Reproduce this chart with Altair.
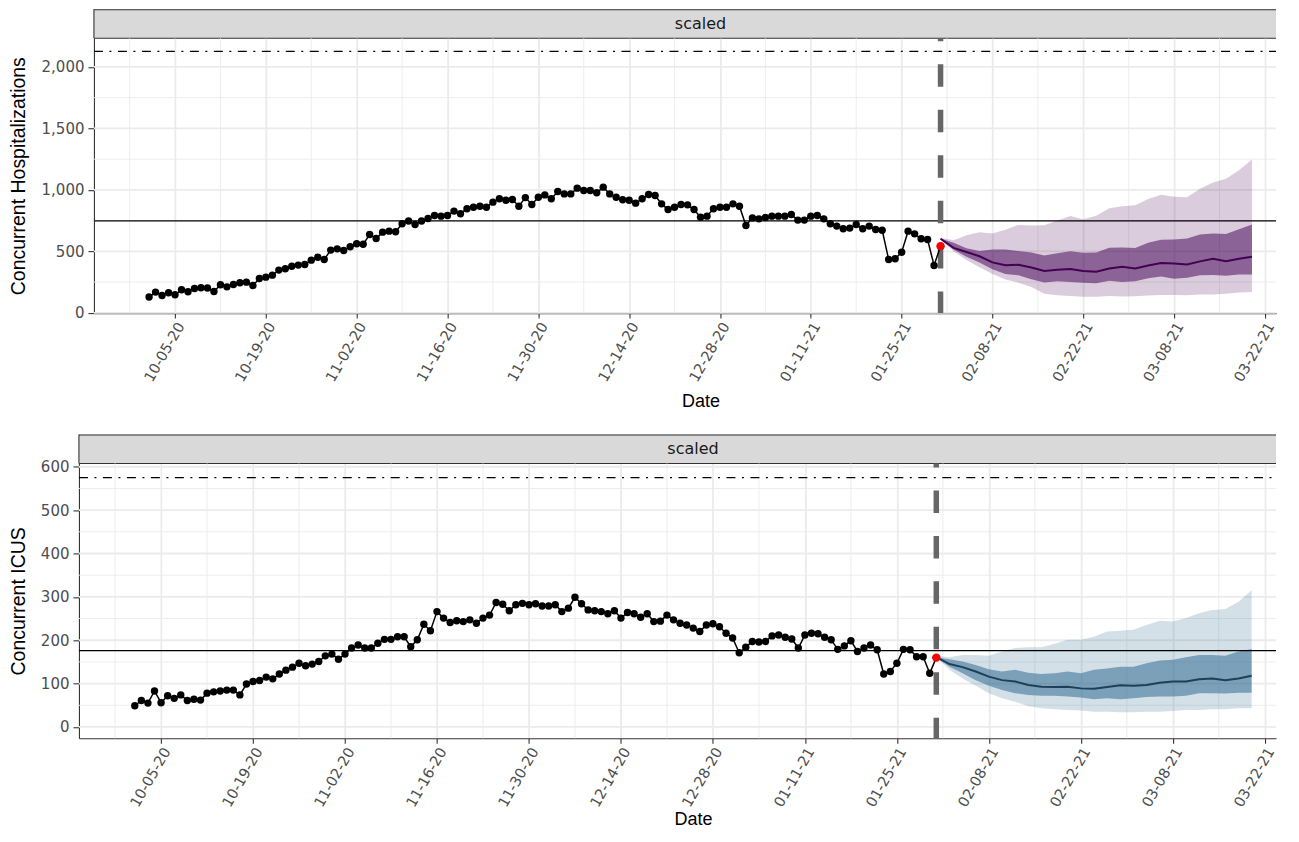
import altair as alt
import pandas as pd

# ---------------- data ----------------
OBS_START = "2020-10-01"
FC_START = "2021-01-31"

hosp_obs = [128, 168, 141, 163, 146, 187, 171, 198, 203, 201, 173, 228, 211, 230, 244, 249,
            222, 279, 290, 306, 347, 358, 379, 388, 393, 428, 452, 434, 510, 520, 507, 537,
            561, 558, 637, 604, 656, 664, 659, 724, 746, 718, 746, 767, 791, 786, 791, 827,
            805, 846, 859, 867, 859, 900, 927, 916,
            921, 867, 937, 881, 940, 959, 927, 986, 967, 967, 1014, 995, 995, 976, 1022, 967,
            940, 919, 916, 892, 927, 962, 954, 886, 840, 859, 881, 878, 840, 778, 786, 846,
            859, 859, 886, 867, 710, 772, 764, 775, 786, 786, 786, 799, 754, 754, 786, 791,
            764, 724, 705, 683, 689, 718, 683, 705, 678, 672, 434, 439, 493, 664, 642, 602,
            596, 385, 542]

icu_obs = [49, 61, 55, 83, 56, 72, 66, 74, 61, 64, 62, 78, 81, 83, 85, 85, 74, 99, 105, 107,
           115, 111, 122, 131, 138, 147, 141, 145, 151, 164, 168, 156, 168, 182, 189, 182, 182,
           193, 202, 202, 208, 208, 185, 201, 237, 222, 266, 251, 241, 245, 243, 247, 239, 251,
           258, 287,
           283, 268, 282, 285, 282, 284, 279, 279, 282, 266, 274, 299, 284, 270, 268, 266, 261,
           268, 251, 264, 261, 253, 261, 243, 244, 258, 247, 239, 235, 228, 220, 235, 238, 231,
           216, 205, 171, 184, 197, 196, 197, 210, 212, 207, 203, 182, 212, 216, 215, 207, 201,
           179, 187, 199, 174, 182, 189, 178, 122, 128, 147, 179, 178, 162, 162, 124, 160]

fc_days = [0, 2, 4, 6, 8, 10, 12, 14, 16, 18, 20, 22, 24, 26, 28, 30, 32, 34, 36, 38, 40, 42, 44, 46, 48]

hosp_med = [602, 528, 495, 460, 410, 387, 390, 368, 340, 350, 357, 339, 333, 360, 375, 360, 385,
            405, 401, 392, 418, 440, 420, 440, 455]
hosp_lo50 = [598, 515, 455, 410, 355, 315, 305, 272, 246, 257, 250, 244, 240, 260, 250, 256, 280,
             295, 276, 285, 305, 308, 302, 312, 312]
hosp_hi50 = [605, 569, 525, 503, 515, 515, 503, 490, 465, 485, 500, 488, 490, 530, 532, 526, 570,
             595, 596, 605, 637, 645, 640, 680, 718]
hosp_lo95 = [595, 501, 430, 370, 315, 270, 245, 210, 155, 142, 136, 130, 130, 136, 132, 135, 140,
             144, 144, 142, 149, 149, 155, 165, 168]
hosp_hi95 = [610, 591, 630, 655, 645, 675, 715, 710, 712, 750, 788, 760, 790, 850, 866, 875, 925,
             960, 943, 940, 1010, 1060, 1090, 1160, 1246]

icu_med = [161, 145, 138, 128, 116, 108, 105, 97, 93, 92, 93, 89, 88, 92, 96, 95, 97, 102, 105,
           105, 110, 112, 108, 112, 118]
icu_lo50 = [160, 139, 124, 108, 95, 85, 78, 74, 72, 72, 70, 68, 64, 66, 64, 66, 69, 70, 70, 72,
            78, 78, 77, 79, 79]
icu_hi50 = [161, 156, 151, 143, 133, 128, 132, 125, 122, 124, 128, 124, 132, 135, 139, 139, 147,
            153, 155, 161, 166, 166, 164, 174, 180]
icu_lo95 = [160, 132, 112, 95, 78, 66, 58, 48, 43, 41, 39, 38, 35, 35, 34, 34, 35, 35, 37, 39,
            39, 41, 41, 43, 43]
icu_hi95 = [164, 161, 166, 166, 164, 174, 182, 184, 184, 192, 201, 201, 208, 220, 222, 224, 235,
            245, 243, 251, 262, 270, 272, 289, 315]

hosp_ref, hosp_cap = 748, 2127
icu_ref, icu_cap = 176, 575

major_dates = ["2020-10-05", "2020-10-19", "2020-11-02", "2020-11-16", "2020-11-30",
               "2020-12-14", "2020-12-28", "2021-01-11", "2021-01-25", "2021-02-08",
               "2021-02-22", "2021-03-08", "2021-03-22"]
minor_dates = ["2020-09-28", "2020-10-12", "2020-10-26", "2020-11-09", "2020-11-23",
               "2020-12-07", "2020-12-21", "2021-01-04", "2021-01-18", "2021-02-01",
               "2021-02-15", "2021-03-01", "2021-03-15"]
hosp_major_y = [0, 500, 1000, 1500, 2000]
hosp_minor_y = [250, 750, 1250, 1750]
icu_major_y = [0, 100, 200, 300, 400, 500, 600]
icu_minor_y = [50, 150, 250, 350, 450, 550]

# ---------------- helpers ----------------
def iso(ts):
    return ts.strftime("%Y-%m-%dT%H:%M:%S")

def dt(s, hours=0):
    t = pd.Timestamp(s)
    return alt.DateTime(year=t.year, month=t.month, date=t.day, hours=hours)

obs_dates = [iso(t) for t in pd.date_range(OBS_START, periods=len(hosp_obs), freq="D")]
fc_dates = [iso(pd.Timestamp(FC_START) + pd.Timedelta(days=d)) for d in fc_days]

X_DOMAIN = [dt("2020-09-22", 12), dt("2021-03-23", 17)]

LABEL_FONT = "DejaVu Sans"
GRID = "#EBEBEB"
DARK = "#333333"
W = 1183          # visible plot width
FULL_W = 1214     # nominal width of the panel (cut by the window)
STRIP_H = 29
PLOT_H = 275


def make_panel(obs, med, lo50, hi50, lo95, hi95, fill, line_col, ydom, ymajor, yminor,
               ref, cap, ytitle, x0, extent, dash_offset, xtitle_pad):
    xscale = alt.Scale(domain=X_DOMAIN, nice=False, range=[x0, W])
    xaxis = alt.Axis(values=[dt(d) for d in major_dates], format="%m-%d-%y", labelAngle=300,
                     labelAlign="right", labelBaseline="top", labelPadding=2, tickSize=5,
                     labelOverlap=False, labelFlush=False, labelBound=False,
                     labelFont=LABEL_FONT, labelFontSize=14.5, labelColor="#4D4D4D",
                     title="Date", titleFont="Liberation Sans", titleFontSize=18,
                     titleFontWeight="normal", titleColor="#000000", titlePadding=xtitle_pad,
                     titleX=(x0 + FULL_W) / 2, grid=True)
    yscale = alt.Scale(domain=ydom, nice=False, zero=False)
    yaxis = alt.Axis(values=ymajor, format=",d", labelFont=LABEL_FONT, labelFontSize=15,
                     labelColor="#4D4D4D", labelPadding=4, labelFlush=False, tickSize=6,
                     labelOverlap=False, minExtent=extent, maxExtent=extent, offset=-x0,
                     title=ytitle, titleFont="Liberation Sans", titleFontSize=19.5,
                     titleFontWeight="normal", titleColor="#000000", titlePadding=12.5,
                     grid=False)

    def X(field):
        return alt.X(field, type="temporal", scale=xscale, axis=xaxis)

    def Y(field):
        return alt.Y(field, type="quantitative", scale=yscale, axis=yaxis)

    span = dict(x=alt.value(x0), x2=alt.value(W))

    obs_df = pd.DataFrame({"date": obs_dates, "value": obs})
    last_df = obs_df.tail(1)
    fc_df = pd.DataFrame({"date": fc_dates, "med": med, "lo50": lo50, "hi50": hi50,
                          "lo95": lo95, "hi95": hi95})

    minor_x = alt.Chart(pd.DataFrame({"date": [iso(pd.Timestamp(d)) for d in minor_dates]})).mark_rule(
        color=GRID, strokeWidth=0.9).encode(x=X("date"))
    minor_y = alt.Chart(pd.DataFrame({"value": yminor})).mark_rule(
        color=GRID, strokeWidth=0.9).encode(y=Y("value"), **span)
    major_y = alt.Chart(pd.DataFrame({"value": ymajor})).mark_rule(
        color=GRID, strokeWidth=1.8).encode(y=Y("value"), **span)

    outer = alt.Chart(fc_df).mark_area(color=fill, opacity=0.2).encode(
        x=X("date"), y=Y("lo95"), y2="hi95")
    inner = alt.Chart(fc_df).mark_area(color=fill, opacity=0.52).encode(
        x=X("date"), y=Y("lo50"), y2="hi50")
    median = alt.Chart(fc_df).mark_line(color=line_col, strokeWidth=2).encode(
        x=X("date"), y=Y("med"))

    ref_line = alt.Chart(pd.DataFrame({"value": [ref]})).mark_rule(
        color="black", strokeWidth=1.3).encode(y=Y("value"), **span)
    cap_line = alt.Chart(pd.DataFrame({"value": [cap]})).mark_rule(
        color="black", strokeWidth=1.3, strokeDash=[9, 6.5, 2, 6.5]).encode(y=Y("value"), **span)

    vline = alt.Chart(last_df).mark_rule(
        color="#666666", strokeWidth=5.5, strokeDash=[22.5, 23], strokeDashOffset=dash_offset
    ).encode(x=X("date"))

    obs_line = alt.Chart(obs_df).mark_line(color="black", strokeWidth=1.5).encode(
        x=X("date"), y=Y("value"))
    obs_pts = alt.Chart(obs_df).mark_circle(color="black", size=55, opacity=1).encode(
        x=X("date"), y=Y("value"))
    last_pt = alt.Chart(last_df).mark_circle(color="#FF0000", size=70, opacity=1).encode(
        x=X("date"), y=Y("value"))

    panel = alt.layer(minor_x, minor_y, major_y, outer, inner, median, ref_line, cap_line,
                      vline, obs_line, obs_pts, last_pt).properties(width=W, height=PLOT_H)

    # facet-style strip above the panel
    lab = pd.DataFrame({"label": ["scaled"]})
    strip_fill = alt.Chart(lab).mark_rect(fill="#D9D9D9", strokeWidth=0).encode(
        x=alt.value(x0), x2=alt.value(W), y=alt.value(0), y2=alt.value(STRIP_H))
    strip_top = alt.Chart(lab).mark_rule(color=DARK, strokeWidth=1.1).encode(
        x=alt.value(x0), x2=alt.value(W), y=alt.value(0.5))
    strip_bot = alt.Chart(lab).mark_rule(color=DARK, strokeWidth=1.1).encode(
        x=alt.value(x0), x2=alt.value(W), y=alt.value(STRIP_H))
    strip_left = alt.Chart(lab).mark_rule(color=DARK, strokeWidth=1.1).encode(
        x=alt.value(x0), y=alt.value(0), y2=alt.value(STRIP_H))
    strip_text = alt.Chart(lab).mark_text(
        font=LABEL_FONT, fontSize=16, color="#1A1A1A", baseline="middle", align="center"
    ).encode(text="label:N", x=alt.value((x0 + FULL_W) / 2), y=alt.value(STRIP_H / 2 + 0.5))
    strip = alt.layer(strip_fill, strip_top, strip_bot, strip_left, strip_text).properties(
        width=W, height=STRIP_H)

    return alt.vconcat(strip, panel, spacing=0, bounds="flush")


top = make_panel(hosp_obs, hosp_med, hosp_lo50, hosp_hi50, hosp_lo95, hosp_hi95,
                 "#440154", "#440154", [-2.5, 2233], hosp_major_y, hosp_minor_y,
                 hosp_ref, hosp_cap, "Concurrent Hospitalizations", 0, 53, 19.5, 9)
bottom = make_panel(icu_obs, icu_med, icu_lo50, icu_hi50, icu_lo95, icu_hi95,
                    "#2A658E", "#1E3F58", [-26, 607.6], icu_major_y, icu_minor_y,
                    icu_ref, icu_cap, "Concurrent ICUS", -15, 38, 18.5, 2)

chart = alt.vconcat(top, bottom, spacing=22.5).properties(
    padding={"left": 0, "top": 0, "right": 0, "bottom": 0}, background="white"
).configure_view(stroke=None).configure_axis(
    tickWidth=1.1, tickColor=DARK, domainColor=DARK, domainWidth=1.1,
    gridColor=GRID, gridWidth=1.8
)

chart.save("out.html", embed_options={"renderer": "svg", "actions": False})
